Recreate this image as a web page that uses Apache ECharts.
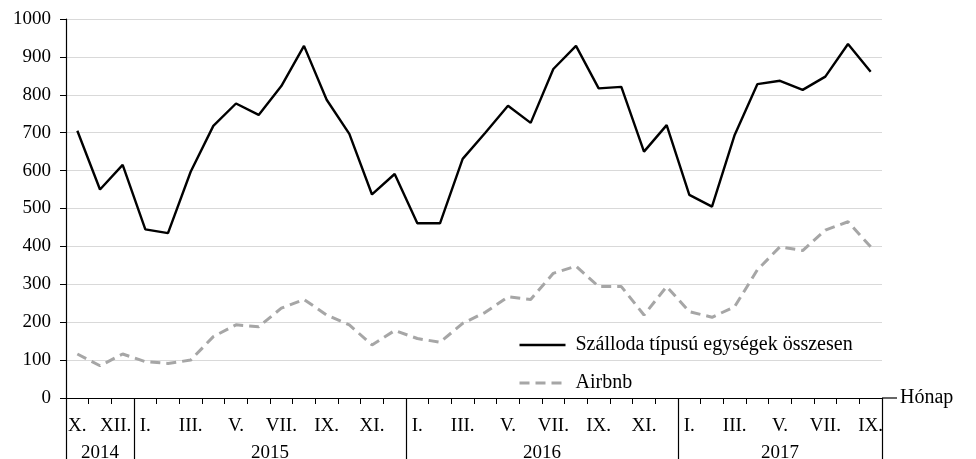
<!DOCTYPE html>
<html>
<head>
<meta charset="utf-8">
<script src="https://cdn.jsdelivr.net/npm/echarts@6/dist/echarts.min.js"></script>
<style>
  html, body { margin: 0; padding: 0; background: #fff; }
  #chart { width: 976px; height: 459px; }
</style>
</head>
<body>
<div id="chart"></div>
<script>
// havi kategóriák: 2014 X. - 2017 IX.
var months = [
  "X.", "XI.", "XII.",
  "I.", "II.", "III.", "IV.", "V.", "VI.", "VII.", "VIII.", "IX.", "X.", "XI.", "XII.",
  "I.", "II.", "III.", "IV.", "V.", "VI.", "VII.", "VIII.", "IX.", "X.", "XI.", "XII.",
  "I.", "II.", "III.", "IV.", "V.", "VI.", "VII.", "VIII.", "IX."
];
// csak minden második hónap felirata látszik
var monthLabels = [
  "X.", "", "XII.",
  "I.", "", "III.", "", "V.", "", "VII.", "", "IX.", "", "XI.", "",
  "I.", "", "III.", "", "V.", "", "VII.", "", "IX.", "", "XI.", "",
  "I.", "", "III.", "", "V.", "", "VII.", "", "IX."
];
var years = ["2014", "2015", "2016", "2017"];
var yearMonthCounts = [3, 12, 12, 9];

var hotelData = [
  705, 550, 615,
  445, 435, 597, 718, 777, 747, 823, 929, 787, 697, 537, 591,
  461, 461, 631, 700, 771, 726, 868, 929, 817, 821, 650, 720,
  536, 505, 694, 828, 837, 813, 848, 934, 861
];
var airbnbData = [
  116, 85, 116,
  96, 91, 100, 162, 193, 188, 237, 260, 219, 193, 140, 178,
  157, 147, 197, 226, 267, 260, 329, 348, 294, 294, 219, 294,
  228, 213, 241, 338, 399, 389, 443, 465, 399
];

// második (év) tengely: félhónapos lépték, így az évek közepe és határa is osztópontra esik
var halfCount = months.length * 2 + 1;
var yearAxisData = [];
var yearBoundaryAt = { 0: true };
var pos = 0;
for (var i = 0; i < halfCount; i++) yearAxisData.push("");
years.forEach(function (y, k) {
  var n = yearMonthCounts[k];
  yearAxisData[pos + n] = y;
  pos += n * 2;
  yearBoundaryAt[pos] = true;
});

var fontFamily = "'Liberation Serif', 'DejaVu Serif', serif";
var hotelLine = { color: "#000", width: 2.4 };
var airbnbLine = { color: "#a6a6a6", width: 3, type: [10, 6] };

var chart = echarts.init(document.getElementById("chart"));
var option = {
  animation: false,
  textStyle: { fontFamily: fontFamily },
  grid: { left: 66, right: 94, top: 19, bottom: 61, containLabel: false, outerBoundsMode: "none" },
  legend: {
    orient: "vertical",
    left: 513,
    top: 330,
    itemWidth: 46,
    itemHeight: 14,
    itemGap: 18,
    itemStyle: { opacity: 0 },
    textStyle: { fontFamily: fontFamily, fontSize: 20, color: "#000", padding: [0, 0, 0, 5] },
    data: [
      { name: "Szálloda típusú egységek összesen", lineStyle: hotelLine },
      { name: "Airbnb", lineStyle: airbnbLine }
    ]
  },
  xAxis: [
    {
      type: "category",
      data: months,
      boundaryGap: true,
      name: "Hónap",
      nameLocation: "end",
      nameGap: 18,
      nameTextStyle: {
        fontFamily: fontFamily, fontSize: 20, color: "#000",
        verticalAlign: "middle", padding: [0, 0, 8, 0]
      },
      axisLine: { lineStyle: { color: "#000", width: 1.2 } },
      axisTick: { show: true, length: 6, lineStyle: { color: "#000" } },
      axisLabel: {
        interval: 0,
        margin: 19,
        fontFamily: fontFamily,
        fontSize: 19,
        color: "#000",
        formatter: function (v, idx) {
          var t = monthLabels[idx];
          return t === "XII." ? "{s|" + t + "}" : t;
        },
        rich: { s: { fontFamily: fontFamily, fontSize: 19, color: "#000", padding: [0, 14, 0, 0] } }
      },
      splitLine: { show: false }
    },
    {
      type: "category",
      data: yearAxisData,
      boundaryGap: false,
      position: "bottom",
      axisLine: { show: false },
      axisTick: {
        show: true,
        length: 62,
        interval: function (idx) { return !!yearBoundaryAt[idx]; },
        lineStyle: { color: "#000", width: 1.2 }
      },
      axisLabel: {
        interval: 0,
        margin: 46,
        fontFamily: fontFamily,
        fontSize: 19,
        color: "#000"
      },
      splitLine: { show: false }
    }
  ],
  yAxis: {
    type: "value",
    min: 0,
    max: 1000,
    interval: 100,
    axisLine: { show: true, lineStyle: { color: "#000", width: 1.2 } },
    axisTick: { show: true, length: 6, lineStyle: { color: "#000" } },
    axisLabel: {
      margin: 15,
      fontFamily: fontFamily,
      fontSize: 19,
      color: "#000",
      formatter: function (v) { return String(v); }
    },
    splitLine: { lineStyle: { color: "#d9d9d9", width: 1.2 } }
  },
  graphic: [
    {
      type: "line",
      shape: { x1: 882, y1: 398, x2: 897, y2: 398 },
      style: { stroke: "#000", lineWidth: 1.2 }
    }
  ],
  series: [
    {
      name: "Szálloda típusú egységek összesen",
      type: "line",
      xAxisIndex: 0,
      data: hotelData,
      symbol: "none",
      lineStyle: hotelLine,
      itemStyle: { color: "#000" },
      z: 3
    },
    {
      name: "Airbnb",
      type: "line",
      xAxisIndex: 0,
      data: airbnbData,
      symbol: "none",
      lineStyle: airbnbLine,
      itemStyle: { color: "#a6a6a6" },
      z: 2
    }
  ]
};
chart.setOption(option);
</script>
</body>
</html>
